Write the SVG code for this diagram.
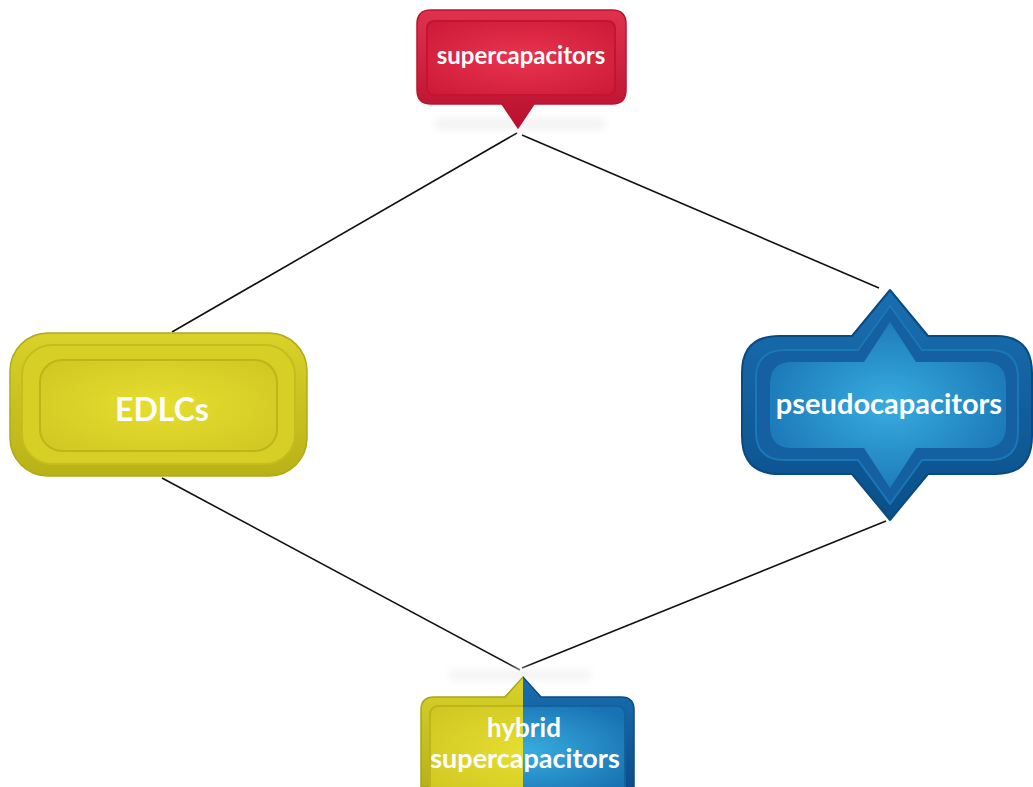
<svg xmlns="http://www.w3.org/2000/svg" width="1033" height="787" viewBox="0 0 1033 787">
<style>
.lbl{font-family:"Lato","Liberation Sans",sans-serif;font-weight:bold;fill:#ffffff;text-anchor:middle}
.conn line{stroke:#111;stroke-width:1.6}
</style>
<defs>
<linearGradient id="redOut" x1="0" y1="0" x2="0" y2="1"><stop offset="0" stop-color="#e0324f"/><stop offset="1" stop-color="#b8102e"/></linearGradient>
<radialGradient id="redIn" cx="0.5" cy="0.5" r="0.7"><stop offset="0" stop-color="#e8344f"/><stop offset="1" stop-color="#cc1a38"/></radialGradient>
<linearGradient id="yelOut" x1="0" y1="0" x2="0" y2="1"><stop offset="0" stop-color="#d8d22a"/><stop offset="1" stop-color="#b8b218"/></linearGradient>
<radialGradient id="yelIn" cx="0.5" cy="0.5" r="0.7"><stop offset="0" stop-color="#e6de30"/><stop offset="1" stop-color="#cfc622"/></radialGradient>
<linearGradient id="bluOut" x1="0" y1="0" x2="0" y2="1"><stop offset="0" stop-color="#1a6fb0"/><stop offset="1" stop-color="#0a4f8a"/></linearGradient>
<radialGradient id="bluIn" cx="0.5" cy="0.5" r="0.6"><stop offset="0" stop-color="#38acde"/><stop offset="1" stop-color="#1873b4"/></radialGradient>
<filter id="blur" x="-20%" y="-200%" width="140%" height="500%"><feGaussianBlur stdDeviation="4"/></filter>
<clipPath id="hybL"><rect x="400" y="660" width="123" height="130"/></clipPath>
<clipPath id="hybR"><rect x="523" y="660" width="130" height="130"/></clipPath>
</defs>
<rect width="1033" height="787" fill="#ffffff"/>

<g class="conn">
<line x1="517" y1="133" x2="172" y2="332"/>
<line x1="522" y1="135" x2="879" y2="288"/>
<line x1="162" y1="478" x2="520" y2="670"/>
<line x1="886" y1="521" x2="522" y2="668"/>
</g>

<g id="supercapacitors">
<rect x="435" y="119" width="170" height="10" fill="#f1f1f1" filter="url(#blur)"/>
<path d="M431,10 H612 Q626,10 626,24 V90 Q626,104 612,104 H534 L518,128 L502,104 H431 Q417,104 417,90 V24 Q417,10 431,10 Z" fill="url(#redOut)" stroke="#c01030" stroke-width="1.5"/>
<rect x="426" y="20" width="190" height="76" rx="8" fill="#c41432"/>
<rect x="428" y="22" width="186" height="72" rx="7" fill="url(#redIn)"/>
<text class="lbl" x="521" y="64" font-size="24">supercapacitors</text>
</g>

<g id="edlcs">
<rect x="10" y="333" width="297" height="143" rx="38" fill="url(#yelOut)" stroke="#b0aa18" stroke-width="1.5"/>
<rect x="22" y="345" width="273" height="119" rx="30" fill="#d6cf26" stroke="#c4bd1c" stroke-width="2"/>
<rect x="40" y="360" width="237" height="91" rx="22" fill="url(#yelIn)" stroke="#bdb51a" stroke-width="2"/>
<text class="lbl" x="162" y="421" font-size="32">EDLCs</text>
</g>

<g id="pseudocapacitors">
<path d="M890,290 L852,336 H779 Q742,336 742,373 V436 Q742,474 779,474 H852 L890,520 L928,474 H996 Q1032,474 1032,436 V373 Q1032,336 996,336 H928 Z" fill="url(#bluOut)" stroke="#0a4a82" stroke-width="2" stroke-linejoin="round"/>
<path d="M890,306 L858,350 H785 Q756,350 756,378 V432 Q756,460 785,460 H858 L890,504 L922,460 H990 Q1018,460 1018,432 V378 Q1018,350 990,350 H922 Z" fill="#1560a0" stroke="#1a78b8" stroke-width="2" stroke-linejoin="round"/>
<path d="M890,322 L864,362 H792 Q770,362 770,384 V426 Q770,448 792,448 H864 L890,488 L916,448 H984 Q1006,448 1006,426 V384 Q1006,362 984,362 H916 Z" fill="url(#bluIn)" stroke-linejoin="round"/>
<text class="lbl" x="889" y="414" font-size="29">pseudocapacitors</text>
</g>

<g id="hybrid">
<rect x="450" y="670" width="140" height="10" fill="#f3f3f3" filter="url(#blur)"/>
<g clip-path="url(#hybL)">
<path d="M434,697 H505 L523,677 L541,697 H621 Q634,697 634,710 V787 H421 V710 Q421,697 434,697 Z" fill="url(#yelOut)" stroke="#aaa416" stroke-width="1.5"/>
<rect x="430" y="706" width="195" height="90" rx="8" fill="url(#yelIn)" stroke="#bdb51a" stroke-width="2"/>
</g>
<g clip-path="url(#hybR)">
<path d="M434,697 H505 L523,677 L541,697 H621 Q634,697 634,710 V787 H421 V710 Q421,697 434,697 Z" fill="url(#bluOut)" stroke="#0a4a82" stroke-width="1.5"/>
<rect x="430" y="706" width="195" height="90" rx="8" fill="url(#bluIn)" stroke="#1560a0" stroke-width="2"/>
</g>
<text class="lbl" x="524" y="737" font-size="26">hybrid</text>
<text class="lbl" x="525" y="768" font-size="27">supercapacitors</text>
</g>
</svg>
